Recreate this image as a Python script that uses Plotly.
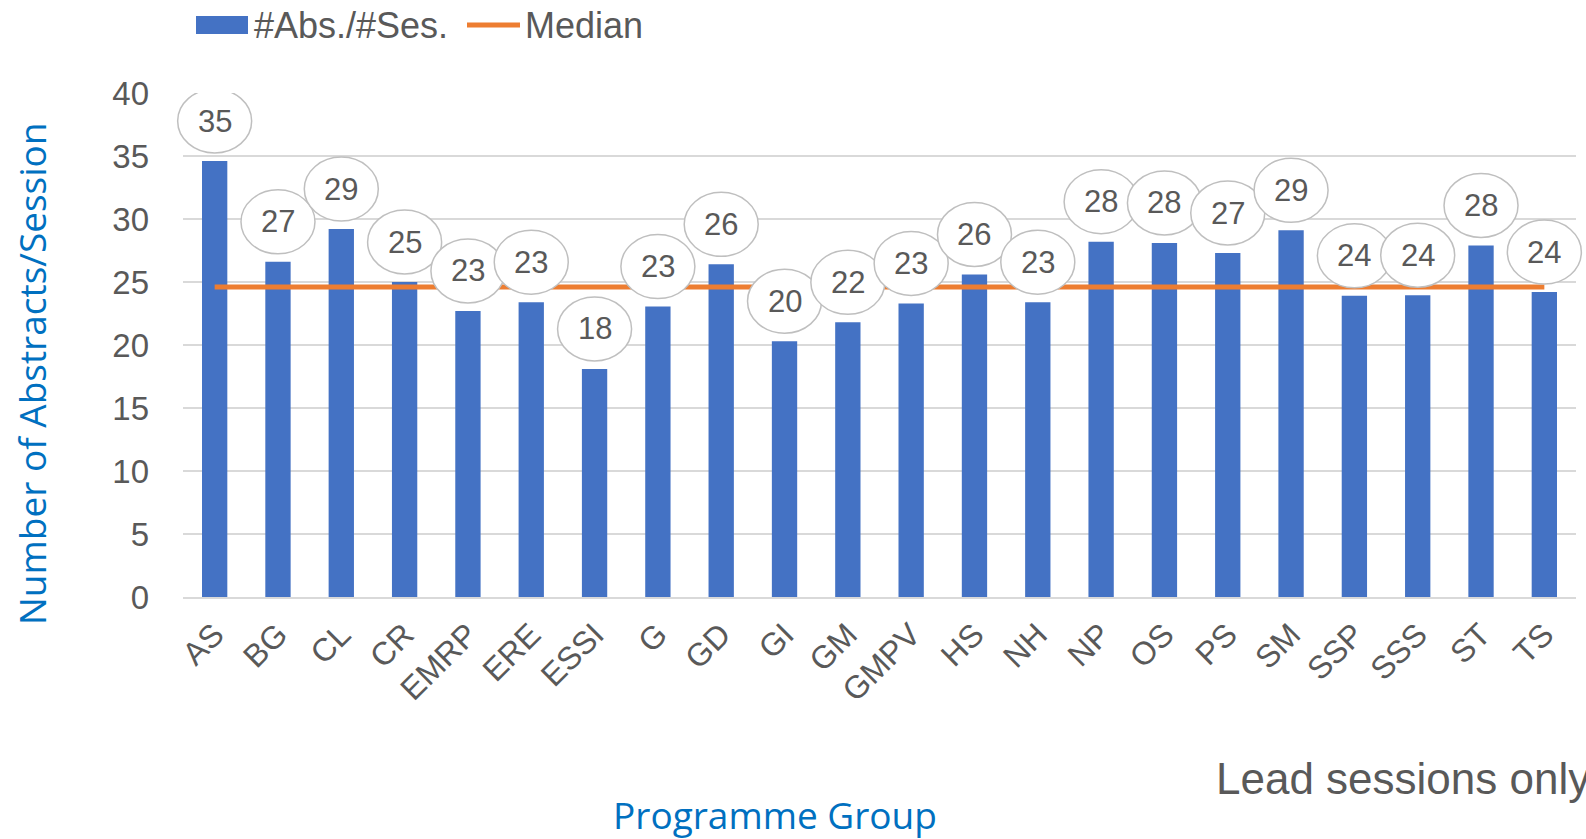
import plotly.graph_objects as go

categories = ["AS", "BG", "CL", "CR", "EMRP", "ERE", "ESSI", "G", "GD", "GI", "GM",
              "GMPV", "HS", "NH", "NP", "OS", "PS", "SM", "SSP", "SSS", "ST", "TS"]
abs_per_ses = [34.6, 26.6, 29.2, 25.0, 22.7, 23.4, 18.1, 23.05, 26.4, 20.3, 21.8,
               23.3, 25.6, 23.4, 28.2, 28.1, 27.3, 29.1, 23.9, 23.95, 27.9, 24.2]
median_vals = [24.6, 24.6, 24.6, 24.6, 24.6, 24.6, 24.6, 24.6, 24.6, 24.6, 24.6,
               24.6, 24.6, 24.6, 24.6, 24.6, 24.6, 24.6, 24.6, 24.6, 24.6, 24.6]
y_ticks = [0, 5, 10, 15, 20, 25, 30, 35, 40]
series_names = ["#Abs./#Ses.", "Median"]

GRAY = "#595959"
BLUE_T = "#0070C0"
BAR_C = "#4472C4"
MED_C = "#ED7D31"
ARIAL = "Liberation Sans, Arial, sans-serif"
SANS = "Open Sans, Noto Sans, sans-serif"

W, H = 1586, 839
L, R, T, B = 183, 10, 93, 242
PW, PH = W - L - R, H - T - B


def px(xp):
    return (xp - L) / PW


def py(yp):
    return (H - B - yp) / PH


fig = go.Figure()
fig.add_trace(go.Bar(x=categories, y=abs_per_ses, name=series_names[0], showlegend=False,
                     marker=dict(color=BAR_C, line=dict(width=0))))
fig.add_trace(go.Scatter(x=categories, y=median_vals, name=series_names[1], mode="lines",
                         showlegend=False, line=dict(color=MED_C, width=5)))

n = len(categories)
shapes = []
annotations = []
for i, (c, v) in enumerate(zip(categories, abs_per_ses)):
    # callout bubble: x follows the category slot (paper fraction) so it is not clipped
    shapes.append(dict(type="circle", xref="paper", yref="y", xsizemode="pixel", ysizemode="pixel",
                       xanchor=(i + 0.5) / n, yanchor=v, x0=-37, x1=37, y0=8, y1=72,
                       fillcolor="white", line=dict(color="#BFBFBF", width=1.5), layer="above"))
    annotations.append(dict(x=c, y=v, xref="x", yref="y", text=f"{v:.0f}", showarrow=False,
                            yshift=40, font=dict(family=ARIAL, size=31, color=GRAY)))

# custom legend (larger symbols, like the original)
shapes.append(dict(type="rect", xref="paper", yref="paper", x0=px(196), x1=px(248),
                   y0=py(34), y1=py(16), fillcolor=BAR_C, line=dict(width=0)))
annotations.append(dict(x=px(252), y=py(25), xref="paper", yref="paper", text=series_names[0],
                        showarrow=False, xanchor="left", yanchor="middle",
                        font=dict(family=ARIAL, size=36, color=GRAY)))
shapes.append(dict(type="line", xref="paper", yref="paper", x0=px(467), x1=px(520),
                   y0=py(25), y1=py(25), line=dict(color=MED_C, width=5)))
annotations.append(dict(x=px(523), y=py(25), xref="paper", yref="paper", text=series_names[1],
                        showarrow=False, xanchor="left", yanchor="middle",
                        font=dict(family=ARIAL, size=36, color=GRAY)))

# axis titles and note
annotations.append(dict(x=px(31), y=py(374), xref="paper", yref="paper",
                        text="Number of Abstracts/Session", textangle=-90, showarrow=False,
                        xanchor="center", yanchor="middle",
                        font=dict(family=SANS, size=37, color=BLUE_T)))
annotations.append(dict(x=px(775), y=py(814), xref="paper", yref="paper",
                        text="Programme Group", showarrow=False,
                        xanchor="center", yanchor="middle",
                        font=dict(family=SANS, size=37, color=BLUE_T)))
annotations.append(dict(x=px(1214), y=py(778), xref="paper", yref="paper",
                        text="Lead sessions only", showarrow=False,
                        xanchor="left", yanchor="middle",
                        font=dict(family=ARIAL, size=44, color=GRAY)))

fig.update_layout(
    width=W, height=H,
    margin=dict(l=L, r=R, t=T, b=B, autoexpand=False),
    paper_bgcolor="white", plot_bgcolor="white",
    bargap=0.6,
    showlegend=False,
    shapes=shapes,
    annotations=annotations,
    xaxis=dict(range=[-0.5, n - 0.5], autorange=False,
               tickangle=-45, tickfont=dict(family=ARIAL, size=32, color=GRAY),
               showline=True, linecolor="#D9D9D9", linewidth=2, ticks="",
               ticklabelstandoff=4, automargin=False),
    yaxis=dict(range=[0, 40], autorange=False, tickvals=y_ticks,
               tickfont=dict(family=ARIAL, size=33, color=GRAY),
               showgrid=True, gridcolor="#D9D9D9", gridwidth=2, zeroline=False, ticks="",
               ticklabelstandoff=33, automargin=False),
)

fig.write_html("out.html", config={"displayModeBar": False},
               post_script="document.body.style.margin='0';document.body.style.overflow='hidden';")
